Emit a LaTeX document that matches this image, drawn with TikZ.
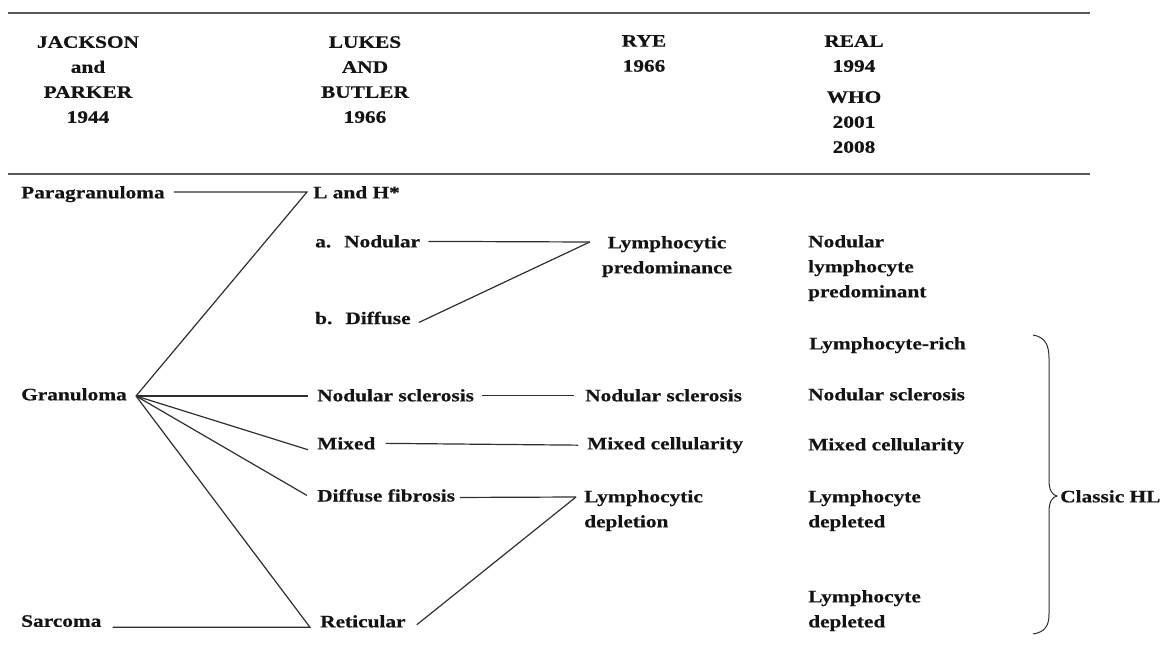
\documentclass[tikz,border=0pt]{standalone}
\usepackage{fontspec}
\setmainfont{Liberation Serif}[FakeStretch=1.22, BoldFeatures={FakeBold=0.5}]
\usetikzlibrary{calc}
\begin{document}
\begin{tikzpicture}[x=1pt,y=-1pt,
  txt/.style={inner sep=0pt, font=\bfseries\fontsize{17.5}{25}\selectfont, text=black!92},
  lft/.style={txt, anchor=north west, align=left},
  ctr/.style={txt, anchor=north, align=center},
  conn/.style={draw=black!82, line width=1.2pt},
  rulerow/.style={draw=black!65, line width=2pt}]
\useasboundingbox (0,0) rectangle (1173,653);
% rules
\draw[rulerow] (8,12.5) -- (1090,12.5);
\draw[rulerow] (8,174) -- (1090,174);
% headers
\node[ctr] (jp) at (88,36) {JACKSON\\and\\PARKER\\1944};
\node[ctr] (lb) at (365,36) {LUKES\\AND\\BUTLER\\1966};
\node[ctr] (rye) at (644,35) {RYE\\1966};
\node[ctr] (real) at (854,35) {REAL\\1994};
\node[ctr] (who) at (854,91) {WHO\\2001\\2008};
% body
\node[lft] (para) at (21,186) {Paragranuloma};
\node[lft] (gran) at (21,388) {Granuloma};
\node[lft] (sarc) at (21,615) {Sarcoma};
\node[lft] (lh) at (313,186) {L and H*};
\node[lft] (nod) at (315,235) {a.\hspace{13pt}Nodular};
\node[lft] (dif) at (315,311.5) {b.\hspace{13pt}Diffuse};
\node[lft] (ns2) at (317,389) {Nodular sclerosis};
\node[lft] (mix) at (317,437) {Mixed};
\node[lft] (dfib) at (317,489) {Diffuse fibrosis};
\node[lft] (ret) at (320,615) {Reticular};
\node[ctr] (lp) at (667,236) {Lymphocytic\\predominance};
\node[lft] (ns3) at (585,389) {Nodular sclerosis};
\node[lft] (mc3) at (587,437) {Mixed cellularity};
\node[lft] (ld3) at (584,490) {Lymphocytic\\depletion};
\node[lft] (nlp) at (808,235) {Nodular\\lymphocyte\\predominant};
\node[lft] (lr) at (809,337) {Lymphocyte-rich};
\node[lft] (ns4) at (808,388) {Nodular sclerosis};
\node[lft] (mc4) at (808,438) {Mixed cellularity};
\node[lft] (ld4a) at (808,490) {Lymphocyte\\depleted};
\node[lft] (ld4b) at (808,590) {Lymphocyte\\depleted};
\node[lft] (chl) at (1060,490) {Classic HL};
% junctions
\coordinate (cLH) at ($(lh.north west)+(-6,6)$);
\coordinate (cG) at (136,396);
\coordinate (cR) at ($(ret.south west)+(-10,-0.5)$);
\coordinate (cLP) at ($(lp.north west)+(-12,6)$);
\coordinate (cLD) at ($(ld3.north west)+(-8,7)$);
% connectors
\draw[conn] ($(para.east |- cLH)+(9,0)$) -- (cLH) -- (cG);
\draw[conn] ($(sarc.east |- cR)+(11,0)$) -- (cR) -- (cG);
\draw[conn] (cG) -- ($(ns2.west |- cG)+(-9,0)$);
\draw[conn] (cG) -- ($(mix.south west)+(-9,0)$);
\draw[conn] (cG) -- ($(dfib.west)+(-10,0)$);
\draw[conn] ($(nod.east)+(8,0)$) -- (cLP);
\draw[conn] ($(dif.south east)+(8,-2)$) -- (cLP);
\draw[conn] ($(ns2.east)+(8,0)$) -- ($(ns3.west)+(-11,0)$);
\draw[conn] ($(mix.east)+(10,0)$) -- ($(mc3.west)+(-9,0)$);
\draw[conn] ($(dfib.east)+(5,2)$) -- (cLD);
\draw[conn] ($(ret.south east)+(11,-3)$) -- (cLD);
% brace
\draw[conn, line width=1pt] (1033,335) .. controls (1045,337) and (1049,345) .. (1049,358)
  -- (1049,480) .. controls (1049,490) and (1052,495) .. (1057,496)
  .. controls (1052,497) and (1049,502) .. (1049,512)
  -- (1049,614) .. controls (1049,626) and (1045,632) .. (1033,634);
\end{tikzpicture}
\end{document}
